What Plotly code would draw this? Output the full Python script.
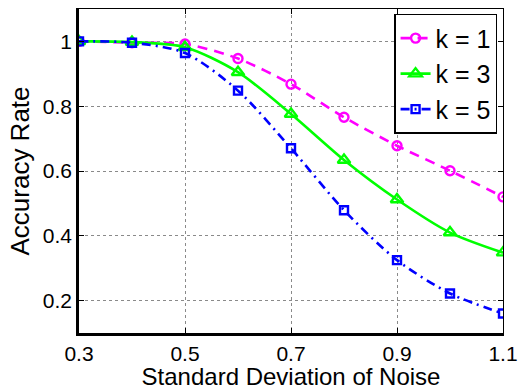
import plotly.graph_objects as go

# Noise levels (standard deviation) and accuracy for each neighbour count k
noise_sd = [0.3, 0.4, 0.5, 0.6, 0.7, 0.8, 0.9, 1.0, 1.1]
acc_k1 = [1.000, 0.996, 0.992, 0.947, 0.868, 0.766, 0.678, 0.601, 0.520]
acc_k3 = [1.000, 0.998, 0.982, 0.905, 0.776, 0.634, 0.512, 0.410, 0.348]
acc_k5 = [1.000, 0.996, 0.964, 0.848, 0.670, 0.479, 0.325, 0.222, 0.160]

series_names = ["k = 1", "k = 3", "k = 5"]
x_ticks = [0.3, 0.5, 0.7, 0.9, 1.1]
y_ticks = [0.2, 0.4, 0.6, 0.8, 1.0]
y_tick_text = ["0.2", "0.4", "0.6", "0.8", "1"]

FONT = "Liberation Sans, Arial, Helvetica, sans-serif"

fig = go.Figure()

styles = [
    dict(color="#ff00ff", dash="10px,7px", symbol="circle-open", size=9),
    dict(color="#00ff00", dash="solid", symbol="triangle-up-open", size=11),
    dict(color="#0000ff", dash="9px,5px,2px,5px", symbol="square-open", size=8),
]

for name, ys, st in zip(series_names, [acc_k1, acc_k3, acc_k5], styles):
    fig.add_trace(go.Scatter(
        x=noise_sd, y=ys, name=name, mode="lines+markers",
        line=dict(color=st["color"], width=2.6, dash=st["dash"],
                  shape="spline", smoothing=0.8),
        marker=dict(symbol=st["symbol"], size=st["size"], color=st["color"],
                    line=dict(width=2.4, color=st["color"])),
    ))

# invisible trace so the mirrored (top/right) frame axes are drawn
fig.add_trace(go.Scatter(x=[0.3], y=[0.2], xaxis="x2", yaxis="y2",
                         mode="markers", marker=dict(opacity=0),
                         showlegend=False, hoverinfo="skip"))

grid = dict(showgrid=True, gridcolor="#8a8a8a", gridwidth=1, griddash="dot")

fig.update_layout(
    width=518, height=390,
    margin=dict(l=79, r=15, t=9, b=57, autoexpand=False),
    paper_bgcolor="white", plot_bgcolor="white",
    font=dict(family=FONT, color="black", size=21),
    showlegend=True,
    legend=dict(x=0.986, y=0.985, xanchor="right", yanchor="top",
                bgcolor="white", bordercolor="black", borderwidth=1.5,
                font=dict(size=25, family=FONT), tracegroupgap=0,
                itemwidth=30),
    xaxis=dict(range=[0.3, 1.1], tickvals=x_ticks,
               ticktext=[f"{v:.1f}" for v in x_ticks],
               showline=True, linecolor="black", linewidth=2.6,
               ticks="inside", ticklen=5, tickcolor="black",
               zeroline=False, automargin=False, ticklabeloverflow="allow",
               **grid,
               title=dict(text="Standard Deviation of Noise",
                          font=dict(size=24), standoff=3)),
    yaxis=dict(range=[0.1, 1.1], tickvals=y_ticks, ticktext=y_tick_text,
               showline=True, linecolor="black", linewidth=2.6,
               ticks="inside", ticklen=5, tickcolor="black",
               zeroline=False, automargin=False, ticklabeloverflow="allow",
               **grid,
               title=dict(text="Accuracy Rate", font=dict(size=26),
                          standoff=6)),
    xaxis2=dict(range=[0.3, 1.1], overlaying="x", side="top",
                tickvals=x_ticks, showticklabels=False, showgrid=False,
                showline=True, linecolor="black", linewidth=1.3,
                ticks="inside", ticklen=5, tickcolor="black", zeroline=False),
    yaxis2=dict(range=[0.1, 1.1], overlaying="y", side="right",
                tickvals=y_ticks, showticklabels=False, showgrid=False,
                showline=True, linecolor="black", linewidth=1.3,
                ticks="inside", ticklen=5, tickcolor="black", zeroline=False),
)

fig.write_html("out.html")
